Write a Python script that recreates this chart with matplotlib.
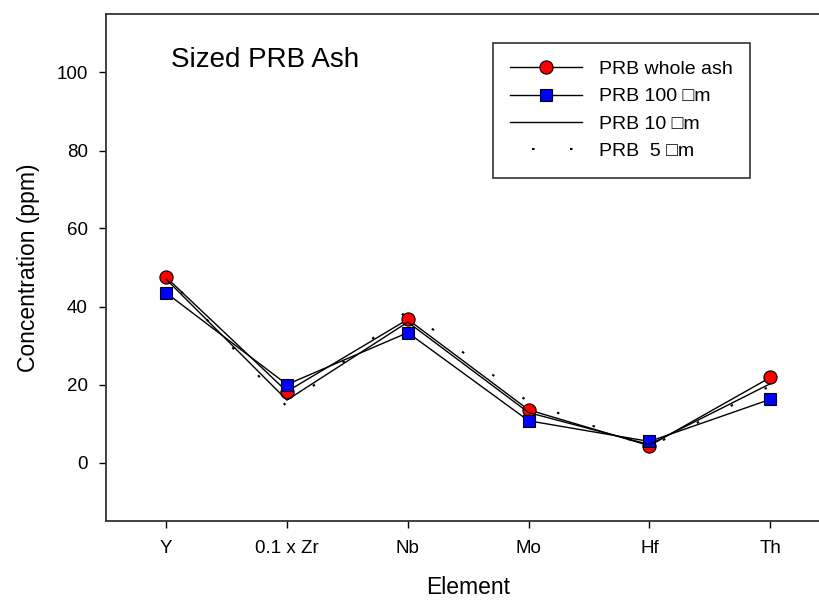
import numpy as np
import matplotlib
matplotlib.use("Agg")
import matplotlib.pyplot as plt

plt.rcParams['font.family'] = ['Liberation Sans', 'DejaVu Sans']

# data
elements = ['Y', '0.1 x Zr', 'Nb', 'Mo', 'Hf', 'Th']
whole_ash = [47.5, 18.2, 36.7, 13.5, 4.3, 21.8]
prb_100um = [43.5, 20.0, 33.3, 10.7, 5.4, 16.2]
prb_10um = [47.0, 16.0, 36.0, 12.8, 4.6, 20.2]
prb_5um = [48.0, 14.3, 39.0, 15.5, 4.0, 19.6]

fig = plt.figure(figsize=(8.2, 6.02), dpi=100)
ax = fig.add_axes([105.7 / 820, 81 / 602, 725 / 820, 507 / 602])

x = np.arange(1, len(elements) + 1)

ax.plot(x, whole_ash, color='black', lw=1.0, marker='o', ms=9.5,
        mfc='#ff0000', mec='black', mew=0.8, label='PRB whole ash')
ax.plot(x, prb_100um, color='black', lw=1.0, marker='s', ms=8.5,
        mfc='#0000ff', mec='black', mew=0.8, label='PRB 100 \u25a1m')
ax.plot(x, prb_10um, color='black', lw=1.0, label='PRB 10 \u25a1m')
# sparse dots, phase shifted so the legend shows two centred dots
ax.plot(x, prb_5um, color='black', lw=1.5, linestyle=(7.6, (1.2, 17)),
        label='PRB  5 \u25a1m')

ax.set_xlim(0.5, 6.5)
ax.set_ylim(-15, 115)
ax.set_xticks(x)
ax.set_xticklabels(elements)
ax.set_yticks([0, 20, 40, 60, 80, 100])

for s in ax.spines.values():
    s.set_linewidth(1.3)
    s.set_color('#333333')
ax.tick_params(direction='out', length=5, width=1, labelsize=13.5)
ax.tick_params(axis='x', pad=9)
ax.tick_params(axis='y', pad=8)

ax.set_xlabel('Element', fontsize=16.5, labelpad=13)
ax.set_ylabel('Concentration (ppm)', fontsize=16.5, labelpad=12)

ax.text(0.09, 0.91, 'Sized PRB Ash', transform=ax.transAxes,
        fontsize=20, ha='left', va='center')

leg = ax.legend(loc='upper left', bbox_to_anchor=(492.7 / 820, 559 / 602),
                bbox_transform=fig.transFigure, fontsize=14, frameon=True,
                fancybox=False, edgecolor='black', handlelength=3.7,
                handletextpad=0.85, borderpad=0.9, labelspacing=0.5,
                borderaxespad=0)
leg.get_frame().set_linewidth(1.2)

fig.savefig('out.png', dpi=100)
